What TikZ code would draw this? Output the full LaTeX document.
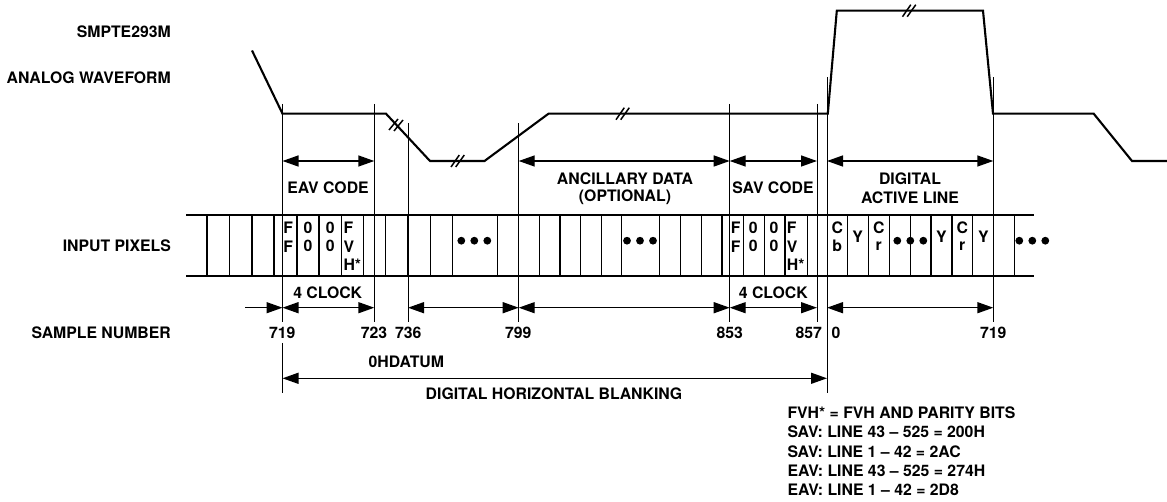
\documentclass[tikz,border=0pt]{standalone}
\usepackage{fontspec}
\setmainfont{TeX Gyre Heros}
\usetikzlibrary{arrows.meta, positioning}
\tikzset{
  lbl/.style={font=\bfseries\fontsize{15.8}{15.8}\selectfont, inner sep=0pt},
  lblr/.style={lbl, anchor=east},
  lbll/.style={lbl, anchor=west},
  wave/.style={line width=2.1pt, line join=miter},
  ticker/.style={line width=1pt},
  rail/.style={line width=2pt},
  cell/.style={line width=1.4pt},
  brk/.style={line width=1.5pt},
  dimen/.style={line width=1.4pt, {Triangle[length=16pt,width=11pt]}-{Triangle[length=16pt,width=11pt]}},
  dimenr/.style={line width=1.4pt, -{Triangle[length=16pt,width=11pt]}}
}
\begin{document}
\begin{tikzpicture}[x=1pt, y=-1pt]
\useasboundingbox (0,0) rectangle (1167,502);

% Row labels
\node[lblr] (smpte) at (171,31.5) {SMPTE293M};
\node[lblr] (analog) at (171,77.5) {ANALOG WAVEFORM};
\node[lblr] (input) at (171,246) {INPUT PIXELS};
\node[lblr] (sample) at (171,333) {SAMPLE NUMBER};

% Waveform
\draw[wave] (252,50.5) -- (282.5,113.7) -- (386,113.7) -- (430,161) -- (484.5,161)
  -- (548.5,113.7) -- (827.8,113.7) -- (836.8,10.7) -- (983,10.7) -- (993,113.7)
  -- (1093.7,113.7) -- (1132,161) -- (1167,161);

% Break marks
\foreach \x/\y in {458/161, 623/113.7, 909.5/10.7} {
  \draw[brk] (\x-7,\y+6) -- (\x+1.3,\y-6);
  \draw[brk] (\x-2.3,\y+6) -- (\x+6.3,\y-6);
}
\draw[brk] (389,130) -- (398,119);
\draw[brk] (394,131) -- (403,120);

% Pixel band
\foreach \x in {207, 229.7, 252, 274, 297, 319, 341.3, 363.7, 385.7, 408, 430.3, 452.7, 497.7,
  518.7, 539.3, 560, 580.7, 601.3, 621.7, 659.7, 680.7, 701.3, 722, 743.3, 764.3, 785, 807.3,
  847.7, 868.3, 889.3, 910.3, 931, 952, 972.7, 993.3, 1014.7} {
  \draw[cell] (\x,215.3) -- (\x,276);
}
\draw[rail] (186,215.3) -- (1034,215.3);
\draw[rail] (186,276) -- (1034,276);

% Sample marks
\foreach \n/\x/\ytop/\ybot in {s719/282.5/104/322, s723/374.3/104/322, s736/408/123.3/322,
  s799/518.7/123.3/322, s853/729.7/104/322, s857/817/104/322, s0/827/77.3/392.7, e719/993.3/77.3/322} {
  \coordinate (top\n) at (\x,\ytop);
  \coordinate (bot\n) at (\x,\ybot);
  \coordinate (up\n) at (\x,161);
  \coordinate (low\n) at (\x,307.7);
  \coordinate (far\n) at (\x,378.3);
  \draw[ticker] (top\n) -- (bot\n);
}
\coordinate (lowstart) at (245,307.7);
\coordinate (s719a) at (282.5,343);
\coordinate (s719b) at (282.5,392.7);
\draw[ticker] (s719a) -- (s719b);

% Spans above the band
\draw[dimen] (ups719) -- (ups723);
\draw[dimen] (ups799) -- (ups853);
\draw[dimen] (ups853) -- (ups857);
\draw[dimen] (ups0) -- (upe719);

% Spans below the band
\draw[dimenr] (lowstart) -- (lows719);
\draw[dimen] (lows719) -- (lows723);
\draw[dimen] (lows736) -- (lows799);
\draw[dimen] (lows799) -- (lows853);
\draw[dimen] (lows853) -- (lows857);
\draw[dimen] (lows0) -- (lowe719);
\draw[dimen] (fars719) -- (fars0);

% Span labels
\node[lbl] (eav) at (328,187.7) {EAV CODE};
\node[lbl] (anc) at (625,179) {ANCILLARY DATA};
\node[lbl] (opt) at (625,197.7) {(OPTIONAL)};
\node[lbl] (sav) at (773,187.7) {SAV CODE};
\node[lbl] (dig) at (910,179) {DIGITAL};
\node[lbl] (act) at (910,197.7) {ACTIVE LINE};

% Band contents
\foreach \n/\x/\y/\t in {a/288.3/227.7/F, b/288.3/246.3/F, c/308/227.7/0, d/308/246.3/0, e/330.3/227.7/0,
  f/330.3/246.3/0, g/735.7/227.7/F, h/735.7/246.3/F, i/753.3/227.7/0, j/753.3/246.3/0, k/774/227.7/0,
  l/774/246.3/0, m/837.3/227.7/C, n/837.3/246.3/b, o/857.7/236.7/Y, p/878.7/227.7/C, q/878.7/246.3/r,
  r/941.3/236.7/Y, s/962.3/227.7/C, t/962.3/246.3/r, u/983.3/236.7/Y} {
  \node[lbl] (px\n) at (\x,\y) {\t};
}
\foreach \n/\x/\y/\t in {a/343.3/227.7/F, b/343.3/246.3/V, c/343.3/265/H*, d/786.7/227.7/F, e/786.7/246.3/V, f/786.7/265/H*} {
  \node[lbll] (fv\n) at (\x,\y) {\t};
}

% Dots
\foreach \x in {474.3, 640, 910.3, 1032.3} {
  \fill (\x-13,240.7) circle (3.9);
  \fill (\x,240.7) circle (3.9);
  \fill (\x+13,240.7) circle (3.9);
}

% Sample numbers
\node[lbl] (c4a) at (327.7,292.3) {4 CLOCK};
\node[lbl] (c4b) at (773.3,292.3) {4 CLOCK};
\foreach \n/\x/\t in {a/282.3/719, b/374/723, c/408.3/736, d/518.3/799, e/729.7/853, f/808.7/857, g/836/0, h/993.3/719} {
  \node[lbl] (num\n) at (\x,332.7) {\t};
}
\node[lbl] (datum) at (406.3,362.3) {0HDATUM};
\node[lbl] (blank) at (554,393.3) {DIGITAL HORIZONTAL BLANKING};

% Notes
\node[lbll] (note1) at (787.3,413) {FVH* = FVH AND PARITY BITS};
\node[lbll] (note2) at (787.3,432.2) {SAV: LINE 43 -- 525 = 200H};
\node[lbll] (note3) at (787.3,451.4) {SAV: LINE 1 -- 42 = 2AC};
\node[lbll] (note4) at (787.3,470.6) {EAV: LINE 43 -- 525 = 274H};
\node[lbll] (note5) at (787.3,489.5) {EAV: LINE 1 -- 42 = 2D8};

\end{tikzpicture}
\end{document}
